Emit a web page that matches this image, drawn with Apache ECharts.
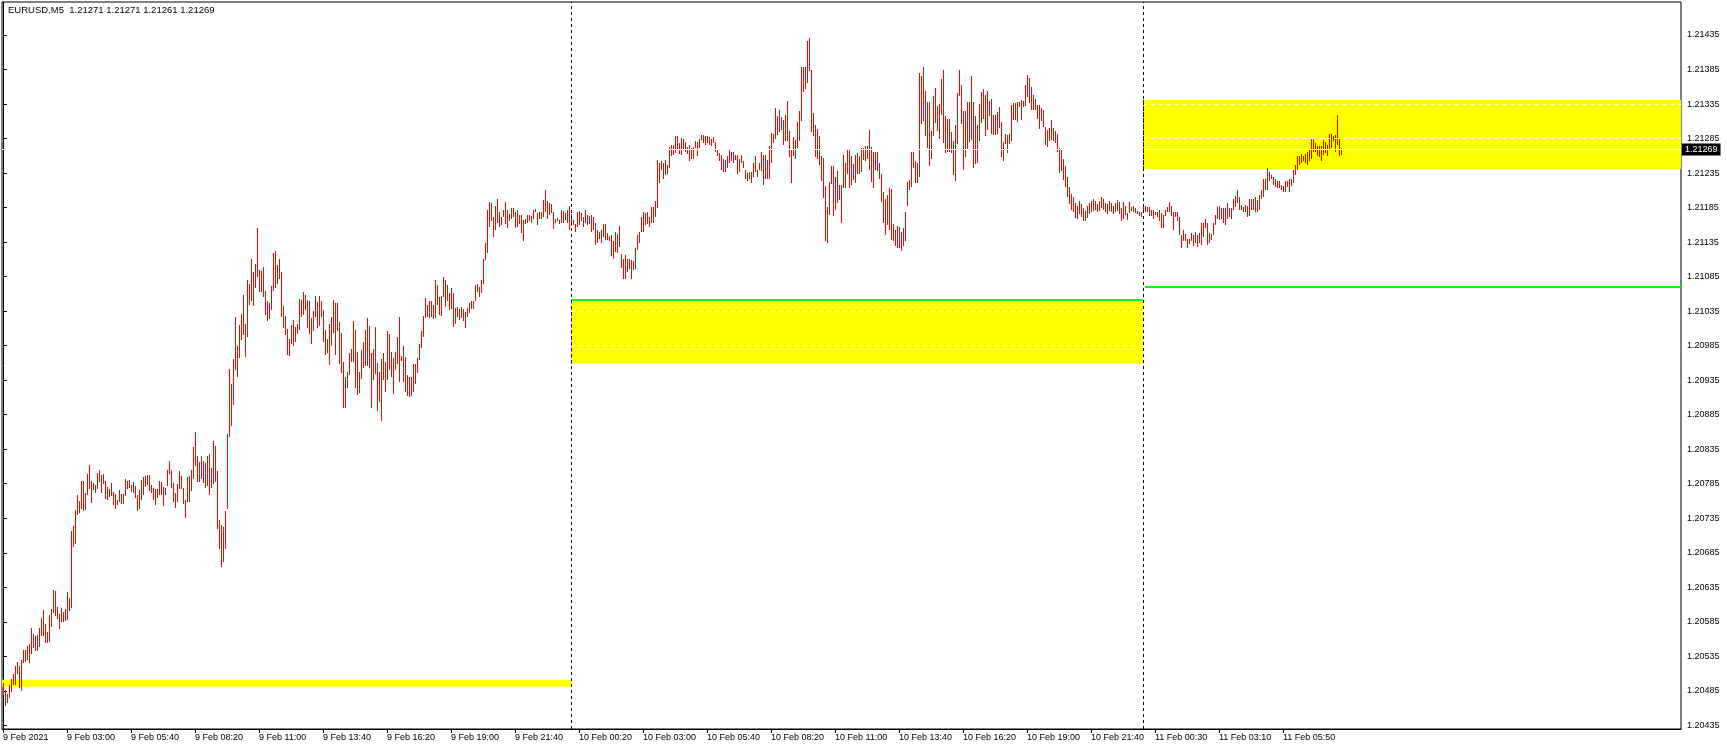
<!DOCTYPE html>
<html><head><meta charset="utf-8">
<script src="https://cdn.jsdelivr.net/npm/echarts@6/dist/echarts.min.js"></script>
<style>html,body{margin:0;padding:0;background:#fff}#c{width:1727px;height:750px}</style>
</head><body><div id="c"></div>
<script>
// ---- chart values ----
const headerText = 'EURUSD,M5  1.21271 1.21271 1.21261 1.21269';
const timeLabels = ['9 Feb 2021','9 Feb 03:00','9 Feb 05:40','9 Feb 08:20','9 Feb 11:00','9 Feb 13:40','9 Feb 16:20','9 Feb 19:00','9 Feb 21:40',
  '10 Feb 00:20','10 Feb 03:00','10 Feb 05:40','10 Feb 08:20','10 Feb 11:00','10 Feb 13:40','10 Feb 16:20','10 Feb 19:00','10 Feb 21:40',
  '11 Feb 00:30','11 Feb 03:10','11 Feb 05:50'];
const labelEveryBars = 32;
const priceTicks = [1.20435,1.20485,1.20535,1.20585,1.20635,1.20685,1.20735,1.20785,1.20835,1.20885,1.20935,
  1.20985,1.21035,1.21085,1.21135,1.21185,1.21235,1.21285,1.21335,1.21385,1.21435];
const dayStartBars = [284, 570];          // 10 Feb 00:00, 11 Feb 00:00
const zoneA = [1.20491, 1.20501];
const zoneB = [1.20959, 1.21049];
const zoneBLevels = [1.21035, 1.20985];
const zoneBGreen = 1.21051;
const zoneC = [1.21241, 1.21341];
const zoneCLevels = [1.21335, 1.21285];
const zoneCGreen = 1.21070;
const lastPrice = 1.21269;
// bar highs / lows, in points above 1.20000 (price = 1.2 + pts/100000)
const highPts = [
496,486,481,494,502,510,521,527,521,530,
544,544,550,553,576,568,564,566,576,590,
602,582,570,595,604,631,629,606,596,605,
599,604,628,620,716,724,747,769,760,789,
789,772,799,812,789,786,783,800,805,797,
799,789,780,777,786,773,770,762,776,770,
770,792,789,791,783,787,781,769,776,791,
795,796,798,797,783,779,778,778,789,787,
780,779,805,818,805,786,772,785,804,796,
779,762,795,796,805,838,860,825,816,825,
818,815,825,828,808,847,839,804,733,725,
722,746,857,951,930,966,1027,984,1015,1031,
1059,1017,1080,1074,1111,1091,1104,1156,1095,1093,
1099,1064,1050,1047,1072,1119,1122,1102,1111,1092,
1042,1028,1009,994,1015,1022,1012,1017,1052,1051,
1062,1059,1051,1049,1025,1035,1057,1048,1057,1050,
1036,1008,994,1017,1027,1051,1047,1047,1019,1003,
961,939,947,975,980,1020,1008,976,947,979,
991,1007,1025,1013,975,980,1012,960,947,965,
975,962,1006,1002,976,967,976,998,1026,970,
984,968,942,940,939,958,958,967,988,1006,
1028,1054,1044,1049,1049,1044,1080,1073,1056,1057,
1084,1080,1073,1061,1069,1061,1039,1041,1038,1041,
1038,1034,1039,1047,1049,1050,1073,1074,1070,1080,
1111,1133,1182,1193,1192,1172,1187,1198,1179,1172,
1182,1193,1181,1176,1185,1185,1179,1181,1174,1174,
1167,1169,1174,1174,1173,1182,1183,1177,1178,1178,
1196,1210,1194,1191,1190,1179,1169,1170,1167,1181,
1180,1177,1181,1188,1175,1167,1161,1178,1180,1177,
1172,1181,1174,1173,1174,1172,1163,1153,1150,1153,
1161,1161,1148,1144,1145,1136,1149,1147,1158,1118,
1111,1116,1110,1111,1109,1107,1126,1145,1149,1172,
1179,1177,1178,1172,1186,1186,1195,1254,1249,1252,
1250,1254,1247,1273,1276,1276,1288,1289,1279,1286,
1284,1280,1273,1276,1271,1273,1281,1280,1285,1290,
1290,1288,1289,1287,1285,1287,1280,1268,1264,1261,
1256,1254,1259,1269,1266,1265,1261,1261,1255,1261,
1252,1240,1235,1237,1237,1249,1259,1240,1249,1265,
1261,1261,1254,1274,1293,1292,1329,1317,1326,1316,
1312,1319,1339,1296,1270,1287,1283,1309,1325,1389,
1389,1389,1426,1430,1384,1322,1305,1299,1289,1259,
1257,1216,1186,1222,1245,1245,1230,1238,1217,1218,
1261,1250,1270,1268,1259,1248,1261,1264,1260,1271,
1271,1274,1274,1297,1273,1265,1265,1265,1250,1233,
1207,1198,1203,1213,1212,1161,1152,1159,1157,1149,
1156,1178,1222,1225,1265,1266,1253,1249,1380,1376,
1389,1354,1338,1338,1296,1347,1358,1332,1335,1371,
1384,1318,1314,1313,1294,1282,1305,1351,1384,1363,
1325,1325,1338,1338,1375,1338,1318,1304,1335,1353,
1357,1348,1354,1340,1342,1319,1319,1324,1330,1309,
1280,1291,1290,1292,1334,1337,1337,1338,1338,1341,
1339,1363,1377,1372,1360,1348,1342,1334,1334,1329,
1327,1302,1298,1300,1312,1300,1296,1292,1272,1268,
1255,1245,1230,1215,1205,1200,1192,1188,1195,1190,
1185,1180,1188,1192,1195,1198,1195,1190,1195,1200,
1198,1192,1190,1195,1192,1188,1192,1196,1193,1185,
1193,1187,1177,1193,1186,1188,1184,1180,1179,1179,
1190,1187,1186,1186,1181,1182,1179,1179,1181,1177,
1174,1182,1186,1193,1187,1179,1179,1178,1172,1145,
1153,1147,1139,1140,1148,1145,1149,1145,1148,1162,
1162,1168,1162,1148,1147,1162,1174,1186,1187,1184,
1184,1184,1192,1184,1184,1198,1202,1210,1200,1189,
1186,1189,1187,1197,1198,1197,1201,1196,1203,1210,
1227,1227,1242,1236,1232,1230,1227,1223,1224,1218,
1216,1224,1223,1227,1227,1240,1247,1259,1259,1263,
1260,1263,1265,1268,1284,1284,1279,1274,1274,1274,
1283,1280,1276,1292,1292,1289,1290,1319,1284,1271];
const lowPts = [
479,463,468,475,484,493,494,509,489,485,
526,527,530,526,539,547,543,542,549,564,
565,555,555,556,578,598,594,589,575,585,
585,586,587,600,605,694,697,740,742,749,
745,747,768,778,757,776,772,778,788,771,
785,763,762,766,767,754,749,754,759,756,
756,767,778,779,773,772,765,746,748,762,
769,780,783,775,772,762,754,764,769,769,
753,769,782,799,779,759,750,759,778,777,
755,736,759,759,775,792,811,788,788,792,
786,779,782,769,779,785,788,720,691,665,
672,691,749,852,868,899,950,940,967,993,
1001,968,998,1044,1050,1043,1069,1085,1063,1063,
1056,1030,1021,1023,1037,1064,1069,1074,1082,1027,
1010,1000,972,970,988,984,991,1002,1008,1027,
1030,1037,1010,1002,988,1006,1026,1010,1013,1026,
991,972,975,957,985,1003,972,1006,958,946,
894,894,924,943,961,962,923,913,917,937,
952,956,956,952,895,935,944,891,904,876,
935,918,935,950,940,915,950,959,933,963,
933,918,912,910,912,918,930,945,964,981,
998,1025,1027,1025,1027,1024,1025,1044,1029,1028,
1056,1041,1050,1037,1038,1012,1017,1027,1022,1025,
1020,1011,1026,1033,1038,1038,1049,1062,1056,1061,
1075,1109,1119,1157,1166,1142,1153,1163,1157,1160,
1172,1161,1156,1165,1168,1172,1156,1157,1161,1148,
1136,1161,1162,1165,1162,1169,1179,1160,1169,1169,
1172,1179,1169,1174,1177,1154,1162,1165,1161,1163,
1163,1167,1162,1153,1158,1160,1150,1157,1160,1165,
1157,1163,1160,1161,1149,1153,1131,1134,1140,1133,
1143,1138,1138,1137,1115,1111,1120,1119,1128,1097,
1082,1082,1091,1096,1081,1095,1096,1123,1134,1149,
1150,1160,1161,1157,1162,1163,1172,1184,1221,1240,
1227,1232,1234,1243,1260,1261,1264,1269,1263,1261,
1269,1266,1263,1253,1256,1256,1271,1260,1271,1283,
1278,1276,1279,1276,1274,1278,1266,1259,1252,1239,
1237,1237,1243,1249,1252,1249,1254,1234,1237,1249,
1243,1227,1223,1227,1221,1230,1237,1229,1240,1238,
1218,1226,1226,1227,1250,1279,1285,1290,1295,1297,
1276,1282,1282,1258,1221,1259,1256,1271,1282,1311,
1353,1357,1366,1383,1295,1288,1258,1255,1247,1224,
1199,1137,1133,1174,1219,1173,1181,1192,1196,1163,
1214,1214,1234,1214,1217,1225,1220,1234,1234,1237,
1254,1253,1256,1239,1222,1214,1239,1238,1226,1193,
1163,1146,1160,1152,1138,1137,1129,1126,1127,1122,
1129,1136,1188,1210,1215,1242,1221,1221,1229,1306,
1311,1289,1272,1245,1255,1288,1307,1296,1284,1319,
1278,1264,1265,1265,1264,1232,1223,1277,1346,1306,
1239,1258,1268,1280,1283,1242,1248,1250,1282,1307,
1314,1289,1297,1318,1292,1290,1290,1292,1300,1258,
1253,1277,1264,1277,1282,1312,1312,1309,1330,1312,
1330,1332,1345,1337,1327,1326,1327,1313,1299,1311,
1302,1276,1273,1282,1283,1282,1279,1266,1235,1238,
1225,1215,1200,1190,1182,1178,1170,1168,1175,1172,
1165,1165,1170,1175,1178,1180,1182,1178,1180,1185,
1182,1178,1176,1180,1178,1175,1178,1180,1175,1165,
1169,1174,1167,1177,1180,1179,1177,1176,1173,1172,
1178,1178,1179,1173,1173,1169,1174,1171,1165,1155,
1155,1173,1178,1179,1173,1153,1172,1165,1145,1126,
1136,1137,1126,1132,1137,1129,1134,1128,1134,1131,
1142,1155,1131,1133,1138,1145,1160,1168,1167,1168,
1163,1160,1168,1172,1169,1182,1186,1192,1182,1181,
1179,1179,1172,1173,1182,1182,1179,1179,1182,1198,
1201,1210,1210,1223,1226,1218,1215,1213,1214,1210,
1208,1208,1215,1208,1216,1220,1232,1239,1247,1250,
1252,1250,1247,1253,1255,1266,1266,1260,1258,1253,
1261,1264,1260,1269,1271,1282,1266,1276,1259,1261];

// ---- build ----
const toPrice = p => +(1.2 + p / 100000).toFixed(5);
const bars = highPts.map((h, i) => [i, toPrice(h), toPrice(lowPts[i])]);
const timeTickBars = timeLabels.map((_, k) => k * labelEveryBars);
const FONT = 'Liberation Sans';
const X_MIN = -0.5, X_MAX = 839;
const Y_MIN = 1.204297, Y_MAX = 1.214828;
const BAR_COLOR = '#ff0000';

const chart = echarts.init(document.getElementById('c'), null, {renderer: 'canvas'});
const seg = (x1, x2, y, style, label) => [{coord: [x1, y], lineStyle: style, label: label || {show: false}}, {coord: [x2, y]}];
const whiteDash = {color: '#ffffff', width: 1, type: [4, 4]};
const green = {color: '#00ff00', width: 2, type: 'solid'};
const d1 = dayStartBars[0], d2 = dayStartBars[1];
const priceTag = {show: true, position: 'end', distance: 1, formatter: lastPrice.toFixed(5), color: '#fff',
                  backgroundColor: '#000', padding: [2, 3, 1, 3], fontSize: 9, fontFamily: FONT};

const option = {
  animation: false,
  backgroundColor: '#ffffff',
  grid: {left: 2, top: 2, width: 1679, height: 727, show: true, borderColor: '#000', borderWidth: 1, backgroundColor: 'transparent'},
  xAxis: {
    type: 'value', min: X_MIN, max: X_MAX,
    axisLine: {show: true, lineStyle: {color: '#000', width: 1}},
    axisTick: {show: true, length: 4, customValues: timeTickBars, lineStyle: {color: '#000'}},
    axisLabel: {customValues: timeTickBars, formatter: v => timeLabels[Math.round(v / labelEveryBars)] || '',
      align: 'left', margin: 4, fontSize: 9, fontFamily: FONT, color: '#000'},
    splitLine: {show: false}
  },
  yAxis: {
    type: 'value', position: 'right', min: Y_MIN, max: Y_MAX,
    axisLine: {show: true, lineStyle: {color: '#000', width: 1}},
    axisTick: {show: true, length: 4, customValues: priceTicks, lineStyle: {color: '#000'}},
    axisLabel: {customValues: priceTicks, formatter: v => v.toFixed(5), margin: 6, fontSize: 9, fontFamily: FONT, color: '#000'},
    splitLine: {show: false}
  },
  graphic: [{type: 'text', left: 8, top: 5, style: {text: headerText, font: '9.5px "Liberation Sans"', fill: '#000'}}],
  series: [
    {
      type: 'line', data: [], z: 1, silent: true,
      markArea: {silent: true, itemStyle: {color: '#ffff00'}, data: [
        [{coord: [X_MIN, zoneA[0]]}, {coord: [d1, zoneA[1]]}],
        [{coord: [d1, zoneB[0]]}, {coord: [d2, zoneB[1]]}],
        [{coord: [d2, zoneC[0]]}, {coord: [X_MAX, zoneC[1]]}]
      ]}
    },
    {
      type: 'line', data: [], z: 2, silent: true,
      markLine: {silent: true, symbol: ['none', 'none'], label: {show: false}, data: [
        seg(d1, d2, zoneBLevels[0], whiteDash),
        seg(d1, d2, zoneBLevels[1], whiteDash),
        seg(d2, X_MAX, zoneCLevels[0], whiteDash),
        seg(d2, X_MAX, zoneCLevels[1], whiteDash),
        seg(d1, d2, zoneBGreen, green),
        seg(d2 + 1, X_MAX, zoneCGreen, green),
        seg(X_MIN, X_MAX, lastPrice, {color: '#ffffff', width: 1, type: 'solid'}, priceTag)
      ]}
    },
    {
      type: 'custom', z: 3, clip: true,
      data: bars,
      encode: {x: 0, y: [1, 2]},
      renderItem: function (params, api) {
        const i = api.value(0);
        const top = api.coord([i, api.value(1)]);
        const bot = api.coord([i, api.value(2)]);
        const x = Math.round(top[0]);
        const y1 = Math.round(top[1]);
        const y2 = Math.round(bot[1]);
        return {type: 'rect', shape: {x: x, y: y1, width: 1, height: Math.max(1, y2 - y1)}, style: {fill: BAR_COLOR}};
      }
    },
    {
      type: 'line', data: [], z: 4, silent: true,
      markLine: {silent: true, symbol: ['none', 'none'], label: {show: false}, data: [
        {xAxis: d1, lineStyle: {color: '#000', width: 1, type: [3, 3]}},
        {xAxis: d2, lineStyle: {color: '#000', width: 1, type: [3, 3]}},
        [{coord: [d1, zoneB[0]], lineStyle: {color: '#0000ff', width: 1, type: [3, 3]}}, {coord: [d1, zoneB[1]]}],
        [{coord: [d2, zoneC[0]], lineStyle: {color: '#0000ff', width: 1, type: [3, 3]}}, {coord: [d2, zoneC[1]]}]
      ]}
    }
  ]
};
chart.setOption(option);
</script></body></html>
